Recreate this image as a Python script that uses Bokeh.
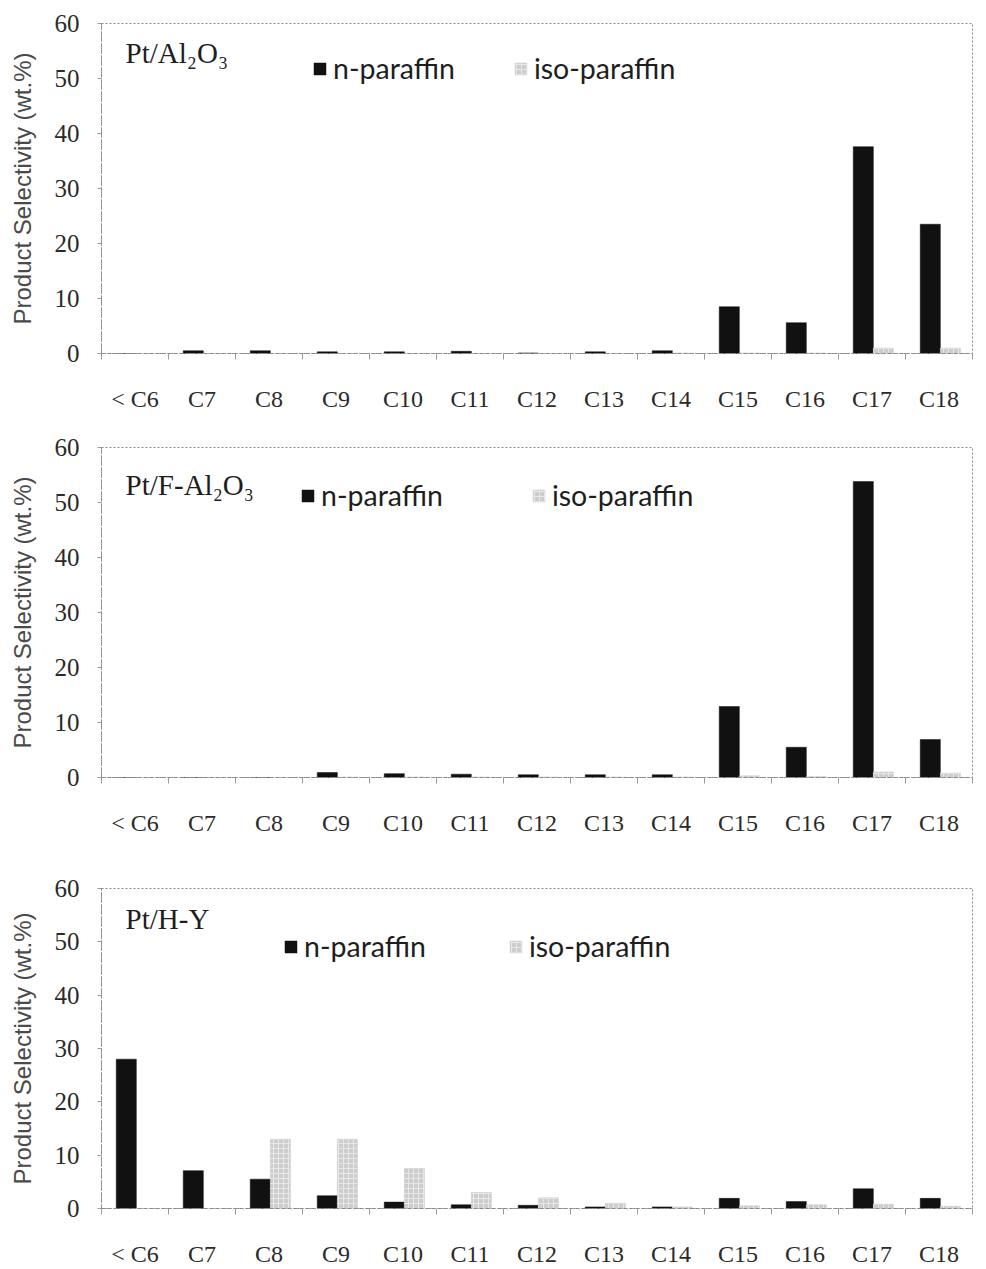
from bokeh.plotting import figure
from bokeh.layouts import column
from bokeh.models import FixedTicker, Range1d, Legend, LegendItem, Label
from bokeh.embed import file_html
from bokeh.resources import INLINE
import numpy as np

# Carbon-number groups on the x axis
categories = ["< C6", "C7", "C8", "C9", "C10", "C11", "C12",
              "C13", "C14", "C15", "C16", "C17", "C18"]

# Product selectivity (wt.%) for each catalyst
al2o3_n = [0.0, 0.5, 0.5, 0.3, 0.3, 0.4, 0.1, 0.3, 0.5, 8.5, 5.6, 37.6, 23.5]
al2o3_iso = [0.0, 0.0, 0.0, 0.0, 0.0, 0.0, 0.0, 0.0, 0.1, 0.1, 0.1, 1.0, 1.0]

fal2o3_n = [0.0, 0.0, 0.0, 0.9, 0.7, 0.6, 0.5, 0.5, 0.5, 12.9, 5.5, 53.8, 6.9]
fal2o3_iso = [0.0, 0.0, 0.0, 0.1, 0.1, 0.1, 0.1, 0.1, 0.1, 0.3, 0.2, 1.0, 0.8]

hy_n = [28.0, 7.1, 5.5, 2.4, 1.2, 0.7, 0.6, 0.3, 0.3, 1.9, 1.3, 3.7, 1.9]
hy_iso = [0.0, 0.0, 13.0, 13.0, 7.5, 3.0, 2.0, 1.0, 0.3, 0.5, 0.7, 0.8, 0.4]

y_ticks = [0, 10, 20, 30, 40, 50, 60]

N_COLOR = "#111111"
ISO_COLOR = "#cdcdcd"
SERIF = "Liberation Serif"
SANS = "Lato"


def make_panel(title, title_y, n_vals, iso_vals, height, top, bottom, legend_xy, legend_gap):
    p = figure(width=986, height=height, output_backend="svg", toolbar_location=None,
               x_range=Range1d(0, len(categories)), y_range=Range1d(0, 60),
               min_border_left=101, min_border_right=14,
               min_border_top=top, min_border_bottom=bottom)
    p.background_fill_color = "white"
    p.border_fill_color = "white"
    p.grid.visible = False
    p.outline_line_color = "#8a8a8a"
    p.outline_line_dash = "2 2"
    p.outline_line_width = 1

    centers = np.arange(len(categories)) + 0.5
    rn = p.vbar(x=centers - 0.13, top=n_vals, width=0.3, fill_color=N_COLOR,
                line_color=N_COLOR, line_width=0.5)
    ri = p.vbar(x=centers + 0.17, top=iso_vals, width=0.3, fill_color=ISO_COLOR,
                line_color=ISO_COLOR, line_width=0.5,
                hatch_pattern="+", hatch_color="#e8e8e8", hatch_scale=5, hatch_weight=1)

    # x axis: labels at the group centres, small ticks on the group boundaries
    xa = p.xaxis[0]
    xa.ticker = FixedTicker(ticks=list(centers),
                            minor_ticks=list(range(len(categories) + 1)))
    xa.major_label_overrides = {float(c): lab for c, lab in zip(centers, categories)}
    xa.major_tick_out = 0
    xa.major_tick_in = 0
    xa.minor_tick_out = 6
    xa.minor_tick_in = 0
    xa.minor_tick_line_color = "#9a9a9a"
    xa.axis_line_color = "#8a8a8a"
    xa.axis_line_dash = "4 2"
    xa.major_label_text_font = SERIF
    xa.major_label_text_font_size = "24px"
    xa.major_label_text_color = "#2a2a2a"
    xa.major_label_standoff = 26

    ya = p.yaxis[0]
    ya.ticker = FixedTicker(ticks=y_ticks)
    ya.minor_tick_line_color = None
    ya.major_tick_out = 4
    ya.major_tick_in = 0
    ya.major_tick_line_color = "#9a9a9a"
    ya.axis_line_color = "#8a8a8a"
    ya.axis_line_dash = "4 2"
    ya.major_label_text_font = SERIF
    ya.major_label_text_font_size = "25px"
    ya.major_label_text_color = "#2a2a2a"
    ya.major_label_standoff = 18
    ya.axis_label = "Product Selectivity (wt.%)"
    ya.axis_label_text_font = "Liberation Sans"
    ya.axis_label_text_font_style = "normal"
    ya.axis_label_text_font_size = "24px"
    ya.axis_label_text_color = "#4a4a4a"
    ya.axis_label_standoff = 16

    p.add_layout(Label(x=0.36, y=title_y, text=title, text_font=SERIF,
                       text_font_size="29px", text_color="#1e1e1e",
                       text_baseline="alphabetic"))

    legend = Legend(items=[LegendItem(label="n-paraffin", renderers=[rn]),
                           LegendItem(label="iso-paraffin", renderers=[ri])],
                    orientation="horizontal", location=legend_xy,
                    spacing=legend_gap, padding=0, margin=0,
                    glyph_width=15, glyph_height=15, label_standoff=6,
                    label_text_font=SANS, label_text_font_size="28.5px",
                    label_text_color="#1e1e1e",
                    border_line_color=None, background_fill_alpha=0)
    p.add_layout(legend)
    return p


p1 = make_panel("Pt/Al₂O₃", 54.6, al2o3_n, al2o3_iso, 420, 23, 67, (211, 268), 58)
p2 = make_panel("Pt/F-Al₂O₃", 53.1, fal2o3_n, fal2o3_iso, 440, 27, 83, (199, 265), 88)
p3 = make_panel("Pt/H-Y", 54.2, hy_n, hy_iso, 409, 28, 52, (182, 245), 82)

page = column(p1, p2, p3, spacing=0)
open("out.html", "w").write(file_html(page, INLINE))
